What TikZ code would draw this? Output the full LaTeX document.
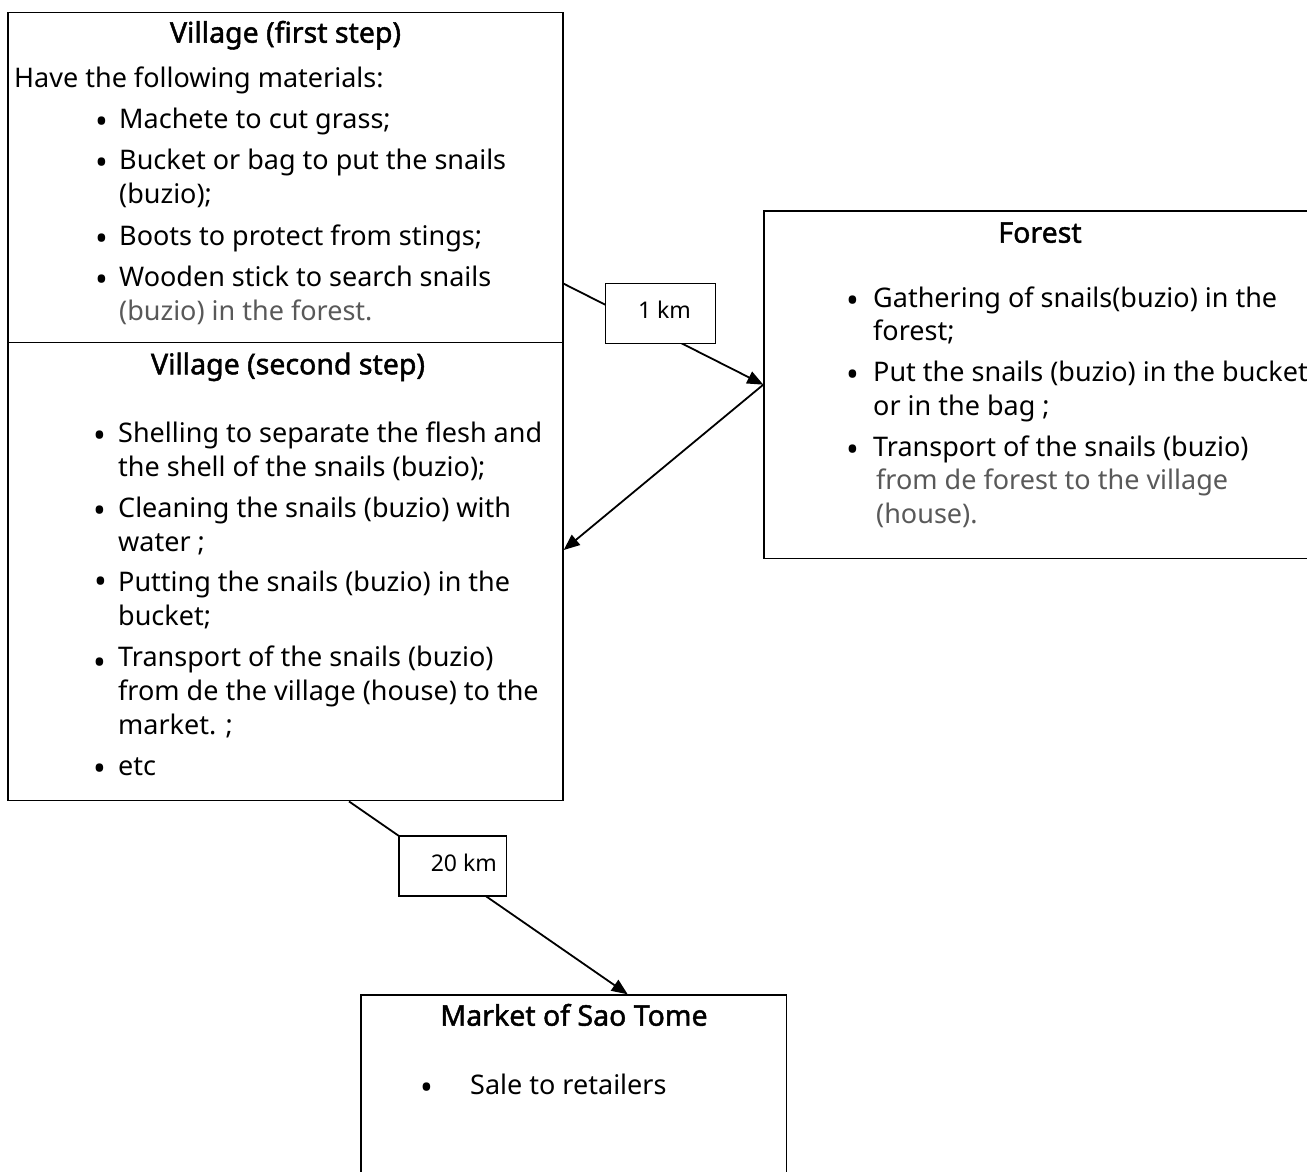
\documentclass[tikz,border=0pt]{standalone}
\usepackage{fontspec}
\setmainfont{Noto Sans}
\newfontfamily\headfont[FakeBold=1.6]{Noto Sans}
\usetikzlibrary{arrows.meta}
\definecolor{softgray}{RGB}{89,89,89}
\begin{document}
\begin{tikzpicture}[x=1pt,y=-1pt,
  boxstyle/.style={draw=black, line width=1.4pt, rectangle, inner sep=0pt},
  kmbox/.style={draw=black, line width=1.4pt, fill=white, inner sep=0pt, text depth=7pt, font=\fontsize{23}{28}\selectfont},
  txt/.style={anchor=base west, inner sep=0pt, font=\fontsize{27}{34}\selectfont},
  grey/.style={txt, text=softgray},
  blt/.style={anchor=base, inner sep=0pt, yshift=-5pt, font=\fontsize{34}{34}\selectfont},
  head/.style={anchor=base, inner sep=0pt, font=\fontsize{28.5}{32}\headfont\bfseries},
  conn/.style={line width=1.8pt, -{Triangle[length=16pt,width=13pt]}}
]
\useasboundingbox (0,0) rectangle (1307,1171);
\clip (0,0) rectangle (1307,1171);
\fill[white] (0,0) rectangle (1307,1171);

% boxes
\node[boxstyle, minimum width=555pt, minimum height=330.4pt] (b1) at (285.5,177.5) {};
\node[boxstyle, minimum width=555pt, minimum height=458pt] (b2) at (285.5,571.7) {};
\node[boxstyle, minimum width=552pt, minimum height=347.3pt] (forest) at (1040,384.65) {};
\node[boxstyle, minimum width=425.7pt, minimum height=220pt] (market) at (573.85,1105) {};

% connectors
\coordinate (a1) at ([yshift=59.7pt]b1.south east);
\coordinate (a2) at ([yshift=21.7pt]b2.east);
\coordinate (a3) at ([xshift=63.5pt]b2.south);
\coordinate (a4) at ([xshift=53.85pt]market.north);
\draw[conn] (a1) -- (forest.west);
\draw[conn] (forest.west) -- (a2);
\draw[conn] (a3) -- (a4);

% distance labels
\node[kmbox, minimum width=109.5pt, minimum height=59.6pt] (km1) at (660.5,313.5) {\hspace{8pt}1 km};
\node[kmbox, minimum width=107.7pt, minimum height=60pt] (km2) at (452.8,866) {\hspace{22pt}20 km};

% Village (first step)
\node[head] (h1) at (285.5,42.7) {Village (first step)};
\node[txt] (t1) at (14,87.3) {Have the following materials:};
\node[blt] (p1) at (101.7,128.5) {•};
\node[txt] (t2) at (119,128.5) {Machete to cut grass;};
\node[blt] (p2) at (101.7,169) {•};
\node[txt] (t3) at (119,169) {Bucket or bag to put the snails};
\node[txt] (t4) at (119,203) {(buzio);};
\node[blt] (p3) at (101.7,245) {•};
\node[txt] (t5) at (119,245) {Boots to protect from stings;};
\node[blt] (p4) at (101.7,286) {•};
\node[txt] (t6) at (119,286) {Wooden stick to search snails};
\node[grey] (t7) at (119,320) {(buzio) in the forest.};

% Village (second step)
\node[head] (h2) at (288,374.3) {Village (second step)};
\node[blt] (q1) at (100,442) {•};
\node[txt] (u1) at (118,442) {Shelling to separate the flesh and};
\node[txt] (u2) at (118,476.5) {the shell of the snails (buzio);};
\node[blt] (q2) at (100,517) {•};
\node[txt] (u3) at (118,517) {Cleaning the snails (buzio) with};
\node[txt] (u4) at (118,551) {water ;};
\node[blt] (q3) at (100.5,588) {•};
\node[txt] (u5) at (118,591) {Putting the snails (buzio) in the};
\node[txt] (u6) at (118,625.5) {bucket;};
\node[blt] (q4) at (100,669) {•};
\node[txt] (u7) at (118,666) {Transport of the snails (buzio)};
\node[txt] (u8) at (118,700) {from de the village (house) to the};
\node[txt] (u9) at (118,734.5) {market. ;};
\node[blt] (q5) at (100,775) {•};
\node[txt] (u10) at (118,775) {etc};

% Forest
\node[head] (h3) at (1040,242.7) {Forest};
\node[blt] (r1) at (852.7,307.3) {•};
\node[txt] (v1) at (873,307.3) {Gathering of snails(buzio) in the};
\node[txt] (v2) at (873,340.5) {forest;};
\node[blt] (r2) at (852.7,381.7) {•};
\node[txt] (v3) at (873,381.7) {Put the snails (buzio) in the bucket};
\node[txt] (v4) at (873,415.5) {or in the bag ;};
\node[blt] (r3) at (852.7,456) {•};
\node[txt] (v5) at (873,456) {Transport of the snails (buzio)};
\node[grey] (v6) at (876,489.5) {from de forest to the village};
\node[grey] (v7) at (876,523.5) {(house).};

% Market
\node[head] (h4) at (574,1025.7) {Market of Sao Tome};
\node[blt] (s1) at (427,1094.3) {•};
\node[txt] (w1) at (470,1094.3) {Sale to retailers};
\end{tikzpicture}
\end{document}
